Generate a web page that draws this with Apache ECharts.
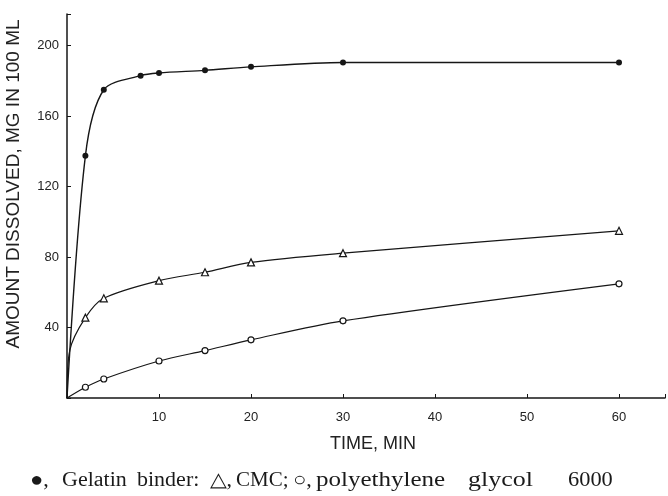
<!DOCTYPE html>
<html>
<head>
<meta charset="utf-8">
<script src="https://cdn.jsdelivr.net/npm/echarts@6/dist/echarts.min.js"></script>
<style>
html,body{margin:0;padding:0;background:#fff;}
#chart{width:668px;height:496px;}
</style>
</head>
<body>
<div id="chart"></div>
<script>
// Data (time in min, amount dissolved in mg per 100 mL)
const gelatinTime = [0, 2, 4, 8, 10, 15, 20, 30, 60];
const gelatinAmount = [0, 137.5, 175, 183, 184.5, 186, 188, 190.5, 190.5];
const cmcTime = [0, 0.3, 2, 4, 10, 15, 20, 30, 60];
const cmcAmount = [0, 27, 45.6, 56.6, 66.6, 71.4, 77, 82.2, 94.9];
const pegTime = [0, 2, 4, 10, 15, 20, 30, 60];
const pegAmount = [0, 6.1, 10.8, 21, 26.9, 33, 43.8, 64.8];
const xTicks = [10, 20, 30, 40, 50, 60];
const yTicks = [40, 80, 120, 160, 200];
const xTitle = 'TIME, MIN';
const yTitle = 'AMOUNT DISSOLVED, MG IN 100 ML';
const captionWords = ['\u25CF,', 'Gelatin', 'binder:', '\u25B3,', 'CMC;', '\u25CB,', 'polyethylene', 'glycol', '6000'];

// layout of caption words (start x, horizontal stretch)
const captionStart = [30, 62, 137, 210, 236, 293, 316, 468, 568];
const captionStretch = [1.1, 1.1, 1.1, 1.1, 1.05, 1.1, 1.25, 1.3, 1.12];

const ink = '#161616';
const captionFont = '20px "Liberation Serif", "Times New Roman", serif';

function build(ts, vs, markerPoints) {
  return ts.map((t, i) => {
    const item = { value: [t, vs[i]] };
    if (!markerPoints(t)) item.symbol = 'none';
    return item;
  });
}

const chart = echarts.init(document.getElementById('chart'), null, { renderer: 'canvas' });
const axisFont = { fontFamily: 'Liberation Sans, Arial, sans-serif', fontSize: 13, color: '#222' };

const captionGraphics = captionWords.map((w, i) => ({
  type: 'text', x: captionStart[i], y: 481, scaleX: captionStretch[i],
  style: { text: w, fill: '#1a1a1a', font: captionFont, textAlign: 'left', textVerticalAlign: 'middle' }
}));

chart.setOption({
  animation: false,
  backgroundColor: '#fff',
  grid: { left: 67, right: 1, top: 14, bottom: 98, containLabel: false },
  xAxis: {
    type: 'value', min: 0, max: 65, interval: 10,
    axisLine: { show: true, lineStyle: { color: ink, width: 1.5 } },
    axisTick: { show: true, inside: true, length: 4, lineStyle: { color: ink } },
    splitLine: { show: false },
    axisLabel: Object.assign({
      margin: 13,
      formatter: v => xTicks.includes(v) ? String(v) : ''
    }, axisFont)
  },
  yAxis: {
    type: 'value', min: 0, max: 218, interval: 40,
    axisLine: { show: true, lineStyle: { color: ink, width: 1.5 } },
    axisTick: { show: true, inside: true, length: 4, lineStyle: { color: ink } },
    splitLine: { show: false },
    axisLabel: Object.assign({
      margin: 8,
      formatter: v => yTicks.includes(v) ? String(v) : ''
    }, axisFont)
  },
  series: [
    {
      name: 'Gelatin', type: 'line', smooth: 0.3,
      data: build(gelatinTime, gelatinAmount, t => t > 0),
      symbol: 'circle', symbolSize: 6, showAllSymbol: true,
      itemStyle: { color: ink },
      lineStyle: { color: ink, width: 1.4 }
    },
    {
      name: 'CMC', type: 'line', smooth: 0.3,
      data: build(cmcTime, cmcAmount, t => t >= 1),
      symbol: 'triangle', symbolSize: 7, showAllSymbol: true,
      itemStyle: { color: '#fff', borderColor: ink, borderWidth: 1.2 },
      lineStyle: { color: ink, width: 1.2 }
    },
    {
      name: 'PEG 6000', type: 'line', smooth: 0.3,
      data: build(pegTime, pegAmount, t => t > 0),
      symbol: 'circle', symbolSize: 6, showAllSymbol: true,
      itemStyle: { color: '#fff', borderColor: ink, borderWidth: 1.2 },
      lineStyle: { color: ink, width: 1.2 }
    }
  ],
  graphic: [
    {
      type: 'text', x: 373, y: 444,
      style: { text: xTitle, fill: '#222', font: '18px "Liberation Sans", Arial, sans-serif', textAlign: 'center', textVerticalAlign: 'middle' }
    },
    {
      type: 'text', x: 14, y: 184, rotation: Math.PI / 2,
      style: { text: yTitle, fill: '#222', font: '19px "Liberation Sans", Arial, sans-serif', textAlign: 'center', textVerticalAlign: 'middle' }
    }
  ].concat(captionGraphics)
});
</script>
</body>
</html>
